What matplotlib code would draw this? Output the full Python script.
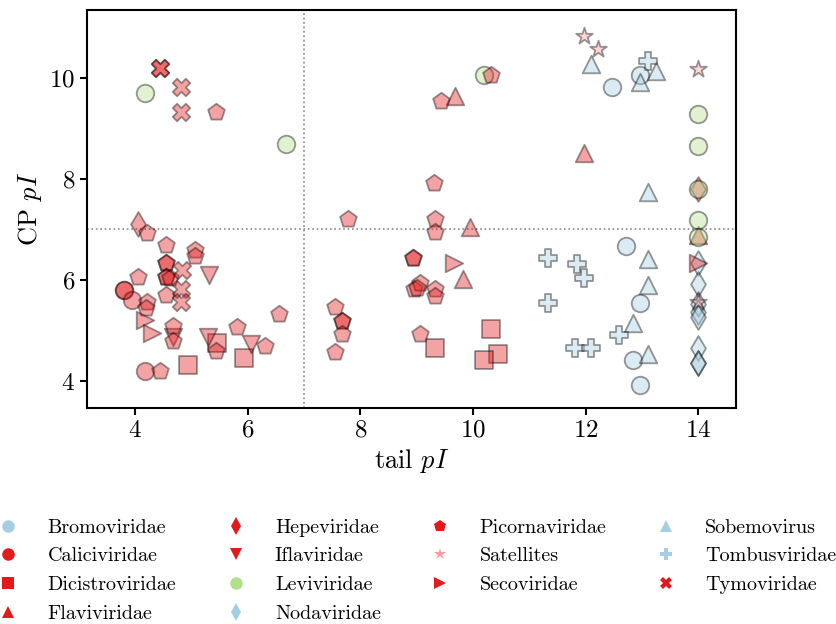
import matplotlib
matplotlib.use("Agg")
import matplotlib.pyplot as plt
from matplotlib.lines import Line2D

plt.rcParams.update({
    "font.family": "serif",
    "font.serif": ["cmr10"],
    "mathtext.fontset": "cm",
    "axes.formatter.use_mathtext": True,
    "axes.unicode_minus": False,
})

# Isoelectric points: tail pI (x) vs capsid protein pI (y), per virus family
bromoviridae_x = [12.47, 12.97, 12.71, 12.97, 12.85, 12.97]
bromoviridae_y = [9.81, 10.05, 6.68, 5.55, 4.42, 3.92]

caliciviridae_x = [3.80, 3.80, 3.94, 4.18]
caliciviridae_y = [5.81, 5.81, 5.60, 4.20]

dicistroviridae_x = [4.94, 5.94, 5.45, 9.32, 10.32, 10.45, 10.19]
dicistroviridae_y = [4.33, 4.45, 4.75, 4.66, 5.04, 4.54, 4.42]

flaviviridae_x = [9.69, 11.97, 9.94, 9.83, 14.0]
flaviviridae_y = [9.64, 8.51, 7.05, 6.02, 6.90]

hepeviridae_x = [4.06, 14.0]
hepeviridae_y = [7.11, 7.81]

iflaviridae_x = [5.31, 4.68, 5.30, 6.06]
iflaviridae_y = [6.10, 4.88, 4.87, 4.74]

leviviridae_x = [4.18, 6.68, 10.19, 14.0, 14.0, 14.0, 14.0, 14.0]
leviviridae_y = [9.69, 8.69, 10.05, 9.29, 8.66, 7.81, 7.18, 6.85]

nodaviridae_x = [14.0, 14.0, 14.0, 14.0, 14.0, 14.0, 14.0, 14.0]
nodaviridae_y = [6.33, 5.93, 5.52, 5.37, 5.27, 4.65, 4.35, 4.35]

picornaviridae_x = [4.21, 4.56, 5.07, 5.07, 4.56, 4.56, 4.56, 4.56, 4.62,
                    4.06, 4.21, 4.19, 4.56, 4.68, 4.68, 5.81, 5.44, 6.31,
                    6.56, 4.44, 5.44, 7.79, 7.55, 7.68, 7.68, 7.68, 7.55,
                    9.06, 9.44, 10.32, 9.31, 9.32, 9.32, 8.93, 8.93, 8.95,
                    9.06, 9.00, 9.32, 9.32]
picornaviridae_y = [6.94, 6.69, 6.59, 6.47, 6.33, 6.33, 6.06, 6.06, 6.05,
                    6.06, 5.57, 5.44, 5.70, 5.09, 4.80, 5.07, 4.60, 4.70,
                    5.33, 4.20, 9.32, 7.20, 5.47, 5.19, 5.19, 4.94, 4.58,
                    4.94, 9.55, 10.05, 7.91, 7.21, 6.95, 6.43, 6.43, 5.82,
                    5.95, 5.85, 5.82, 5.68]

satellites_x = [11.97, 12.22, 14.0, 14.0]
satellites_y = [10.82, 10.56, 10.17, 5.57]

secoviridae_x = [4.18, 4.30, 9.66, 14.0]
secoviridae_y = [5.21, 4.95, 6.33, 6.33]

sobemovirus_x = [12.10, 12.97, 13.25, 13.10, 13.10, 13.10, 12.85, 13.10]
sobemovirus_y = [10.27, 9.91, 10.14, 7.74, 6.41, 5.91, 5.15, 4.53]

tombusviridae_x = [13.10, 11.34, 11.85, 11.97, 11.34, 11.82, 12.10, 12.60]
tombusviridae_y = [10.33, 6.43, 6.31, 6.05, 5.55, 4.66, 4.66, 4.92]

tymoviridae_x = [4.44, 4.44, 4.82, 4.82, 4.83, 4.82, 4.82]
tymoviridae_y = [10.19, 10.19, 9.81, 9.32, 6.19, 5.83, 5.57]

family_names = ["Bromoviridae", "Caliciviridae", "Dicistroviridae",
                "Flaviviridae", "Hepeviridae", "Iflaviridae", "Leviviridae",
                "Nodaviridae", "Picornaviridae", "Satellites", "Secoviridae",
                "Sobemovirus", "Tombusviridae", "Tymoviridae"]

BLUE, RED, GREEN, PINK = "#a6cee3", "#e31a1c", "#b2df8a", "#fb9a99"

series = [
    (bromoviridae_x, bromoviridae_y, BLUE, "o"),
    (caliciviridae_x, caliciviridae_y, RED, "o"),
    (dicistroviridae_x, dicistroviridae_y, RED, "s"),
    (flaviviridae_x, flaviviridae_y, RED, "^"),
    (hepeviridae_x, hepeviridae_y, RED, "d"),
    (iflaviridae_x, iflaviridae_y, RED, "v"),
    (leviviridae_x, leviviridae_y, GREEN, "o"),
    (nodaviridae_x, nodaviridae_y, BLUE, "d"),
    (picornaviridae_x, picornaviridae_y, RED, "p"),
    (satellites_x, satellites_y, PINK, "*"),
    (secoviridae_x, secoviridae_y, RED, ">"),
    (sobemovirus_x, sobemovirus_y, BLUE, "^"),
    (tombusviridae_x, tombusviridae_y, BLUE, "P"),
    (tymoviridae_x, tymoviridae_y, RED, "X"),
]

fig = plt.figure(figsize=(8.36, 6.24), dpi=100)
ax = fig.add_axes([87 / 836, 1 - 408 / 624, (736 - 87) / 836, (408 - 10) / 624])

for xs, ys, col, mk in series:
    ax.scatter(xs, ys, s=160, c=col, marker=mk, alpha=0.4,
               edgecolors="k", linewidths=1.3, zorder=3)

ax.axvline(7, color="#888888", linestyle=":", linewidth=1.2, zorder=1)
ax.axhline(7, color="#888888", linestyle=":", linewidth=1.2, zorder=1)

ax.set_xlim(3.15, 14.67)
ax.set_ylim(3.47, 11.34)
ax.set_xticks([4, 6, 8, 10, 12, 14])
ax.set_yticks([4, 6, 8, 10])
ax.tick_params(labelsize=18, width=1.5, length=5)
for sp in ax.spines.values():
    sp.set_linewidth(1.5)

ax.set_xlabel(r"tail $pI$", fontsize=19)
ax.set_ylabel(r"CP $pI$", fontsize=19)

handles = [Line2D([], [], linestyle="none", marker=mk, color=col,
                  markersize=9, markeredgewidth=0)
           for _, _, col, mk in series]
fig.legend(handles, family_names, loc="upper left", ncol=4, frameon=False,
           bbox_to_anchor=(-0.03, 0.198), fontsize=14.5,
           handletextpad=1.2, columnspacing=2.2, labelspacing=0.53,
           handlelength=1.5)

fig.savefig("out.png", dpi=100)
